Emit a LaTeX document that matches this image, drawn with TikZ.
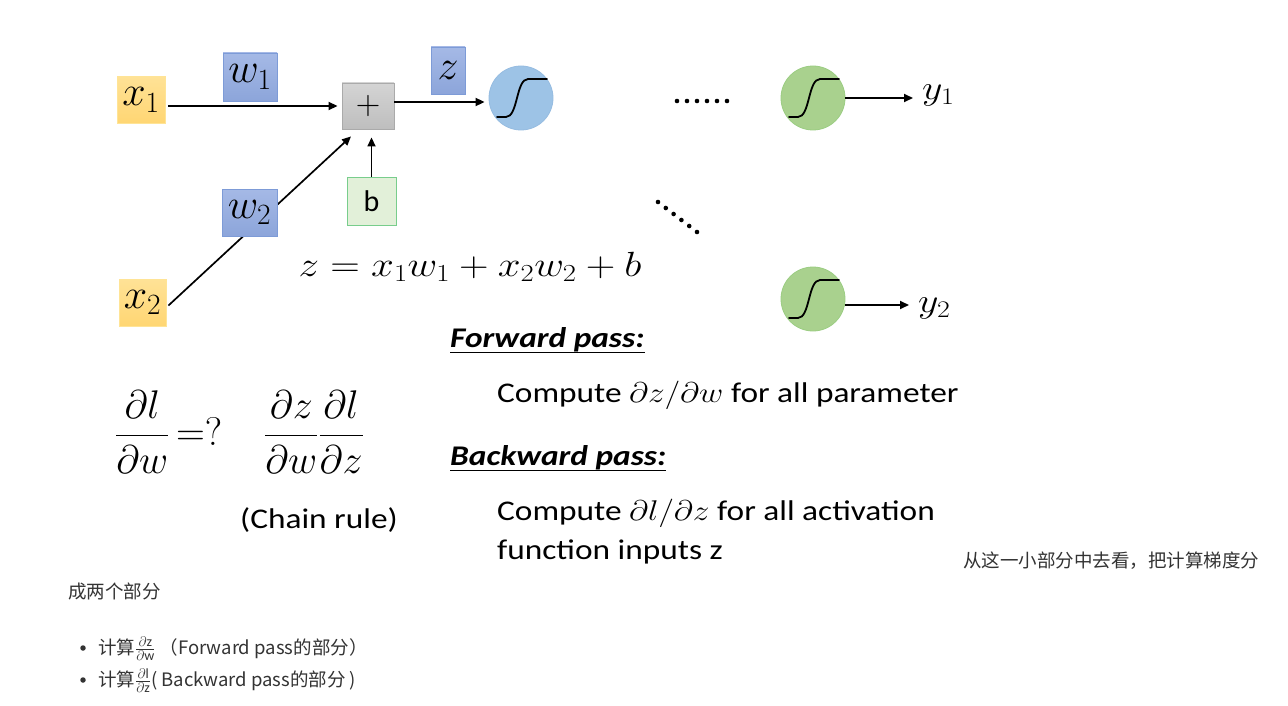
\RequirePackage{fix-cm}
\documentclass[tikz,border=0pt]{standalone}
\usepackage{amsmath}
\usepackage{fontspec}
\setmainfont{Carlito}
\newfontfamily\cjk{Noto Sans CJK SC}
\usetikzlibrary{arrows.meta,calc}
\definecolor{yelF}{RGB}{255,214,115}
\definecolor{yelT}{RGB}{255,226,150}
\definecolor{yelD}{RGB}{255,228,150}
\definecolor{bluF}{RGB}{140,165,218}
\definecolor{bluT}{RGB}{165,185,230}
\definecolor{bluD}{RGB}{125,155,215}
\definecolor{gryF}{RGB}{190,190,190}
\definecolor{gryT}{RGB}{212,212,212}
\definecolor{gryD}{RGB}{170,170,170}
\definecolor{grnF}{RGB}{226,240,217}
\definecolor{grnD}{RGB}{120,205,140}
\definecolor{bcF}{RGB}{157,195,230}
\definecolor{bcD}{RGB}{150,188,225}
\definecolor{gcF}{RGB}{169,209,142}
\definecolor{gcD}{RGB}{155,205,130}
\definecolor{cjkC}{RGB}{51,51,51}
\newcommand{\hs}[1]{\scalebox{1.17}[1]{#1}}
\newcommand{\smfrac}[2]{{\fontsize{20}{22}\selectfont$\frac{\partial\mathrm{#1}}{\partial\mathrm{#2}}$}}
\tikzset{
  box/.style={inner sep=0pt, line width=0.9pt},
  ybox/.style={box, draw=yelD, top color=yelT, bottom color=yelF},
  bbox/.style={box, draw=bluD, top color=bluT, bottom color=bluF},
  gbox/.style={box, draw=gryD, top color=gryT, bottom color=gryF},
  greenbox/.style={box, draw=grnD, fill=grnF},
  bcirc/.style={circle, inner sep=0pt, minimum size=64pt, draw=bcD, fill=bcF, line width=0.8pt},
  gcirc/.style={circle, inner sep=0pt, minimum size=64pt, draw=gcD, fill=gcF, line width=0.8pt},
  arr/.style={line width=1.7pt, -{Triangle[length=9pt,width=8pt]}},
  sigmoid/.pic={\draw[line width=1.8pt, line cap=round] (-24,19) -- (-15,19) .. controls (-3,19) and (-5,-19) .. (7,-19) -- (26,-19);},
  dot/.style={circle, fill=black, inner sep=0pt, minimum size=4.6pt},
  bigm/.style={font=\fontsize{42}{46}\selectfont},
  txt/.style={font=\fontsize{28.5}{32}\selectfont, anchor=base west, inner sep=0pt},
  cj/.style={font=\cjk\fontsize{18.5}{22}\selectfont, text=cjkC, anchor=base west, inner sep=0pt},
  bul/.style={circle, fill=cjkC, inner sep=0pt, minimum size=5.5pt}
}
\begin{document}
\begin{tikzpicture}[x=1pt,y=-1pt]
\useasboundingbox (0,0) rectangle (1288,706);
\fill[white] (0,0) rectangle (1288,706);
% nodes
\node[ybox, minimum width=48pt, minimum height=47pt, bigm] (x1) at (141,100) {$x_1$};
\node[ybox, minimum width=47pt, minimum height=47pt, bigm] (x2) at (142.5,302.5) {$x_2$};
\node[gbox, minimum width=52pt, minimum height=46pt, font=\fontsize{34}{36}\selectfont] (plus) at (368,106) {$+$};
\node[greenbox, minimum width=49pt, minimum height=48pt, font=\fontsize{30}{32}\selectfont] (b) at (371.5,201) {b};
\draw[arr, shorten <=3pt, shorten >=4pt] (x1.east |- plus.west) -- (plus.west);
\draw[arr, shorten >=8pt] (b.north) -- (b.north |- plus.south);
\coordinate (x2o) at ($(x2.east)+(2,3)$);
\coordinate (plusin) at ($(plus.south)+(-17,7)$);
\draw[arr] (x2o) -- (plusin);
\node[bbox, minimum width=54pt, minimum height=48pt, bigm] (w1) at (250,77) {$w_1$};
\node[bbox, minimum width=55pt, minimum height=47pt, bigm] (w2) at (249.5,212.5) {$w_2$};
\node[bbox, minimum width=34pt, minimum height=47pt, bigm] (zb) at (448,70.5) {$z$};
\node[bcirc] (c0) at (521,98) {};
\pic at (c0) {sigmoid};
\draw[arr, shorten >=4pt] ([yshift=4pt]plus.east) -- ([yshift=4pt]plus.east -| c0.west);
% dots
\foreach \i in {0,...,5} \node[dot] (hd\i) at (677+\i*10,101) {};
\foreach \i in {0,...,5} \node[dot] (dd\i) at (658+\i*7.8,202+\i*6) {};
% output neurons
\node[gcirc] (c1) at (813,98) {};
\pic at (c1) {sigmoid};
\node[gcirc] (c2) at (813,299) {};
\pic at (c2) {sigmoid};
\node[font=\fontsize{34}{36}\selectfont, anchor=west, inner sep=0pt] (y1) at (922,95) {\hs{$y_1$}};
\node[font=\fontsize{34}{36}\selectfont, anchor=west, inner sep=0pt] (y2) at (918,308) {\hs{$y_2$}};
\draw[arr, shorten >=9pt] (c1.east) -- (c1.east -| y1.west);
\draw[arr, shorten >=9pt] ([yshift=-6pt]c2.east) -- ([yshift=-6pt]c2.east -| y2.west);
% equation
\node[font=\fontsize{35}{38}\selectfont, inner sep=0pt] (eq) at (470,267) {\hs{$z = x_1 w_1 + x_2 w_2 + b$}};
% fractions
\node[font=\fontsize{40}{44}\selectfont, inner sep=0pt, anchor=west] (f1) at (115,432) {$\dfrac{\partial l}{\partial w}\,{=}?$};
\node[font=\fontsize{40}{44}\selectfont, inner sep=0pt, anchor=west] (f2) at (264,432) {$\dfrac{\partial z}{\partial w}\dfrac{\partial l}{\partial z}$};
\node[txt] (chain) at (240,528) {\hs{(Chain rule)}};
% passes
\node[txt, font=\fontsize{28.5}{32}\selectfont\bfseries\itshape] (fp) at (450,347) {\hs{Forward pass:}};
\draw[line width=1pt] ([yshift=-5pt]fp.base west) -- ([yshift=-5pt]fp.base east);
\node[txt] (fpt) at (497,402) {\hs{Compute $\partial z/\partial w$ for all parameter}};
\node[txt, font=\fontsize{28.5}{32}\selectfont\bfseries\itshape] (bp) at (450,465) {\hs{Backward pass:}};
\draw[line width=1pt] ([yshift=-5pt]bp.base west) -- ([yshift=-5pt]bp.base east);
\node[txt] (bpt) at (497,520) {\hs{Compute $\partial l/\partial z$ for all activation}};
\node[txt] (bpt2) at (497,559) {\hs{function inputs z}};
% chinese text
\node[cj] (cn1) at (963,567) {从这一小部分中去看，把计算梯度分};
\node[cj] (cn2) at (68,598) {成两个部分};
\node[bul] (bl1) at (83,648) {};
\node[cj] (l1) at (98,654) {计算\smfrac{z}{w}\ （Forward pass的部分）};
\node[bul] (bl2) at (83,680) {};
\node[cj] (l2) at (98,686) {计算\smfrac{l}{z}( Backward pass的部分 )};
\end{tikzpicture}
\end{document}
